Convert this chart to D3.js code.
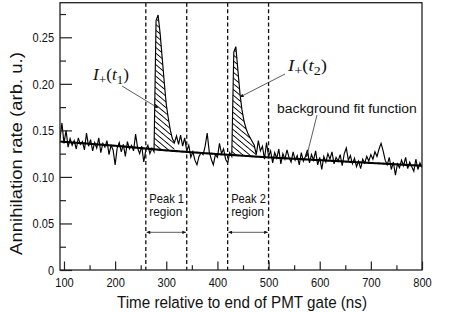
<!DOCTYPE html>
<html>
<head>
<meta charset="utf-8">
<script src="https://cdn.jsdelivr.net/npm/d3@7"></script>
<style>
body { margin: 0; background: #fff; }
svg { display: block; }
</style>
</head>
<body>
<div class="svg-container"></div>
<script>

// histogram of the annihilation rate, 4 ns bins starting at 92 ns
var binStart = 92;
var binWidth = 4;
var rate = [
    0.140, 0.158, 0.136, 0.150, 0.132, 0.141, 0.134, 0.139, 0.130, 0.142,
    0.135, 0.138, 0.129, 0.147, 0.133, 0.140, 0.128, 0.137, 0.131, 0.142,
    0.126, 0.136, 0.132, 0.139, 0.124, 0.134, 0.129, 0.113, 0.131, 0.137,
    0.127, 0.135, 0.122, 0.138, 0.130, 0.134, 0.128, 0.146, 0.131, 0.125,
    0.133, 0.116, 0.129, 0.134, 0.125, 0.131, 0.127, 0.268, 0.274, 0.254,
    0.228, 0.202, 0.178, 0.163, 0.150, 0.141, 0.137, 0.144, 0.135, 0.145,
    0.133, 0.142, 0.128, 0.134, 0.121, 0.127, 0.118, 0.113, 0.122, 0.126,
    0.124, 0.133, 0.147, 0.127, 0.119, 0.113, 0.124, 0.121, 0.136, 0.125,
    0.130, 0.119, 0.115, 0.126, 0.122, 0.234, 0.240, 0.215, 0.190, 0.172,
    0.160, 0.152, 0.146, 0.142, 0.138, 0.134, 0.124, 0.139, 0.128, 0.133,
    0.119, 0.137, 0.122, 0.128, 0.115, 0.126, 0.120, 0.130, 0.114, 0.125,
    0.119, 0.129, 0.121, 0.116, 0.127, 0.118, 0.123, 0.113, 0.126, 0.117,
    0.122, 0.129, 0.115, 0.124, 0.118, 0.128, 0.113, 0.121, 0.108, 0.122,
    0.116, 0.125, 0.119, 0.127, 0.114, 0.121, 0.117, 0.124, 0.112, 0.125,
    0.131, 0.118, 0.123, 0.114, 0.120, 0.111, 0.117, 0.109, 0.119, 0.115,
    0.122, 0.117, 0.124, 0.119, 0.127, 0.122, 0.130, 0.136, 0.128, 0.118,
    0.113, 0.121, 0.108, 0.116, 0.102, 0.114, 0.110, 0.118, 0.112, 0.121,
    0.109, 0.116, 0.111, 0.106, 0.119, 0.108, 0.115, 0.110
];

var fitTime = [92, 200, 300, 400, 500, 600, 700, 800];
var fitRate = [0.138, 0.1335, 0.1285, 0.1245, 0.121, 0.118, 0.115, 0.112];

var gateLines = [260, 340, 420, 500];
var peakNames = ["Peak 1", "Peak 2"];
var peakFrom = [260, 420];
var peakTo = [340, 500];
var hatchFrom = [276, 428];
var hatchTo = [316, 476];

var xMajor = [100, 200, 300, 400, 500, 600, 700, 800];
var xMinor = [150, 250, 350, 450, 550, 650, 750];
var yMajor = [0, 0.05, 0.10, 0.15, 0.20, 0.25];
var yMinor = [0.025, 0.075, 0.125, 0.175, 0.225, 0.275];

var sans = "'Liberation Sans', Arial, Helvetica, sans-serif";
var serif = "'Liberation Serif', 'Times New Roman', serif";

var plotLeft = 60, plotRight = 422, plotTop = 2.7, plotBottom = 270;

var svg = d3.select(".svg-container").append("svg")
    .attr("width", 468)
    .attr("height", 312);

var x = d3.scaleLinear().domain([92.2, 800]).range([plotLeft, plotRight]);
var y = d3.scaleLinear().domain([0, 0.25]).range([plotBottom, 37.3]);
var fit = d3.scaleLinear().domain(fitTime).range(fitRate);

var points = rate.map(function(v, i) { return { t: binStart + i * binWidth, v: v }; });

var defs = svg.append("defs");
defs.append("clipPath").attr("id", "plotclip")
    .append("rect")
    .attr("x", plotLeft).attr("y", plotTop)
    .attr("width", plotRight - plotLeft).attr("height", plotBottom - plotTop);

var hatch = defs.append("pattern")
    .attr("id", "hatch")
    .attr("patternUnits", "userSpaceOnUse")
    .attr("width", 4.4)
    .attr("height", 4.4)
    .attr("patternTransform", "rotate(40)");
hatch.append("line")
    .attr("x1", 0).attr("y1", 2.2).attr("x2", 4.4).attr("y2", 2.2)
    .attr("stroke", "#000").attr("stroke-width", 0.9);

defs.append("marker")
    .attr("id", "ah")
    .attr("viewBox", "0 0 10 10")
    .attr("refX", 10).attr("refY", 5)
    .attr("markerWidth", 5).attr("markerHeight", 3.6)
    .attr("markerUnits", "userSpaceOnUse")
    .attr("orient", "auto-start-reverse")
    .append("path").attr("d", "M0,0L10,5L0,10z").attr("fill", "#111");

// text helper: squeeze/stretch a text to the width it has in the picture
function place(t, px, py, w, extra) {
    var bw = t.node().getBBox().width;
    t.attr("transform", "translate(" + px + "," + py + ")" + (extra || "") + " scale(" + (w / bw) + ",1)");
}
function label(str, px, py, w, size, anchor) {
    var t = svg.append("text")
        .attr("font-family", sans)
        .attr("font-size", size)
        .attr("text-anchor", anchor || "start")
        .attr("fill", "#111")
        .text(str);
    place(t, px, py, w);
    return t;
}

// hatched peak areas
var area = d3.area()
    .x(function(d) { return x(d.t); })
    .y0(function(d) { return y(fit(d.t)); })
    .y1(function(d) { return y(Math.max(d.v, fit(d.t))); });

for (var k = 0; k < hatchFrom.length; k++) {
    var part = points.filter(function(d) { return d.t >= hatchFrom[k] && d.t <= hatchTo[k]; });
    svg.append("path")
        .datum(part)
        .attr("d", area)
        .attr("fill", "url(#hatch)");
}

// data
var line = d3.line()
    .x(function(d) { return x(d.t); })
    .y(function(d) { return y(d.v); });

svg.append("path")
    .datum(points)
    .attr("d", line)
    .attr("clip-path", "url(#plotclip)")
    .attr("fill", "none")
    .attr("stroke", "#000")
    .attr("stroke-width", 1.15)
    .attr("stroke-linejoin", "miter");

// fit
svg.append("path")
    .datum(points)
    .attr("d", d3.line()
        .x(function(d) { return x(d.t); })
        .y(function(d) { return y(fit(d.t)); }))
    .attr("fill", "none")
    .attr("stroke", "#000")
    .attr("stroke-width", 2.1);

// gate lines
svg.selectAll(".gate")
    .data(gateLines)
    .enter().append("line")
    .attr("class", "gate")
    .attr("x1", function(d) { return x(d); })
    .attr("x2", function(d) { return x(d); })
    .attr("y1", plotTop)
    .attr("y2", plotBottom)
    .attr("stroke", "#111")
    .attr("stroke-width", 1.3)
    .attr("stroke-dasharray", "4,2.6");

// peak regions
for (var p = 0; p < peakNames.length; p++) {
    label(peakNames[p], x(peakFrom[p]) + 3.5, 202.7, 35, 12);
    label("region", x(peakFrom[p]) + 3.5, 216, 33, 12);
    svg.append("line")
        .attr("x1", x(peakFrom[p]) + 0.8)
        .attr("x2", x(peakTo[p]) - 0.8)
        .attr("y1", 232.3)
        .attr("y2", 232.3)
        .attr("stroke", "#333")
        .attr("stroke-width", 0.8)
        .attr("marker-start", "url(#ah)")
        .attr("marker-end", "url(#ah)");
}

// axes
svg.append("g")
    .attr("transform", "translate(0," + plotBottom + ")")
    .call(d3.axisBottom(x).tickValues(xMajor).tickSizeInner(-8.5).tickSizeOuter(0).tickPadding(8));
svg.append("g")
    .attr("transform", "translate(0," + plotBottom + ")")
    .call(d3.axisBottom(x).tickValues(xMinor).tickSizeInner(-4.7).tickSizeOuter(0).tickFormat(""));

svg.append("g")
    .attr("transform", "translate(" + plotLeft + ",0)")
    .call(d3.axisLeft(y).tickValues(yMajor).tickSizeInner(-12).tickSizeOuter(0).tickPadding(7)
        .tickFormat(function(d) { return d === 0 ? "0" : d3.format(".2f")(d); }));
svg.append("g")
    .attr("transform", "translate(" + plotLeft + ",0)")
    .call(d3.axisLeft(y).tickValues(yMinor).tickSizeInner(-6).tickSizeOuter(0).tickFormat(""));

svg.selectAll(".domain").remove();
svg.selectAll(".tick line").attr("stroke", "#222").attr("stroke-width", 1.2);
svg.selectAll(".tick text")
    .attr("font-family", sans)
    .attr("font-size", 13)
    .attr("fill", "#111")
    .attr("transform", "scale(0.85,1)");

// frame
svg.append("rect")
    .attr("x", plotLeft).attr("y", plotTop)
    .attr("width", plotRight - plotLeft).attr("height", plotBottom - plotTop)
    .attr("fill", "none")
    .attr("stroke", "#222")
    .attr("stroke-width", 1.3);

// axis titles
label("Time relative to end of PMT gate (ns)", 242, 308, 250, 16.5, "middle");
var yt = svg.append("text")
    .attr("font-family", sans)
    .attr("font-size", 16)
    .attr("text-anchor", "middle")
    .attr("fill", "#111")
    .text("Annihilation rate (arb. u.)");
place(yt, 22, 153.5, 203, " rotate(-90)");

// I+(t) annotations
function intensity(sub, px, py, w) {
    var t = svg.append("text")
        .attr("font-family", serif)
        .attr("font-size", 16)
        .attr("fill", "#111");
    t.append("tspan").attr("font-style", "italic").text("I");
    t.append("tspan").attr("font-size", 12.5).attr("dy", 3.5).text("+");
    t.append("tspan").attr("dy", -3.5).text("(");
    t.append("tspan").attr("font-style", "italic").text("t");
    t.append("tspan").attr("font-size", 12).attr("dy", 3.5).text(sub);
    t.append("tspan").attr("dy", -3.5).text(")");
    place(t, px, py, w);
}
intensity("1", 93, 80, 37);
intensity("2", 288, 71, 40);
label("background fit function", 277, 113, 140, 13.5);

function pointer(x1, y1, x2, y2) {
    svg.append("line")
        .attr("x1", x1).attr("y1", y1)
        .attr("x2", x2).attr("y2", y2)
        .attr("stroke", "#333")
        .attr("stroke-width", 0.8)
        .attr("marker-end", "url(#ah)");
}
pointer(122, 86, 158, 108);
pointer(285, 74, 240, 97);
pointer(317, 115, 306.5, 157);

</script>
</body>
</html>
